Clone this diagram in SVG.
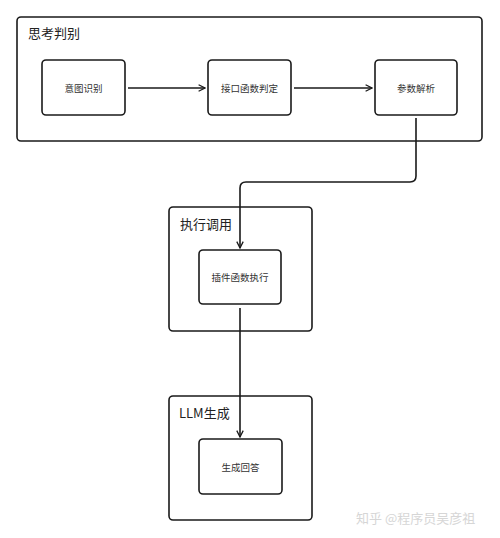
<svg xmlns="http://www.w3.org/2000/svg" width="500" height="538" viewBox="0 0 500 538">
<style>
.grp{fill:#fff;stroke:#1a1a1a;stroke-width:1.6}
.node{fill:#fff;stroke:#1a1a1a;stroke-width:1.6}
.gt{font-family:"Noto Sans CJK SC","Noto Sans",sans-serif;font-size:13px;fill:#222}
.nt{font-family:"Noto Sans CJK SC","Noto Sans",sans-serif;font-size:9.5px;fill:#333;text-anchor:middle;dominant-baseline:central}
.conn{fill:none;stroke:#1a1a1a;stroke-width:1.6}
.wm{font-family:"Noto Sans CJK SC",sans-serif;font-size:13px;fill:#d6d6d6}
</style>
<defs>
<marker id="arr" viewBox="0 0 10 10" refX="9" refY="5" markerWidth="8" markerHeight="8" markerUnits="userSpaceOnUse" orient="auto">
<path d="M1,1 L9,5 L1,9" fill="none" stroke="#1a1a1a" stroke-width="1.6"/>
</marker>
</defs>
<rect width="500" height="538" fill="#fff"/>
<g id="group-think">
<rect class="grp" x="17" y="17" width="465" height="124" rx="4"/>
<text class="gt" x="28" y="38">思考判别</text>
</g>
<g id="node-intent">
<rect class="node" x="42" y="60" width="83" height="55" rx="4"/>
<text class="nt" x="83.5" y="88">意图识别</text>
</g>
<g id="node-iface">
<rect class="node" x="208" y="60" width="83" height="55" rx="4"/>
<text class="nt" x="249.5" y="88">接口函数判定</text>
</g>
<g id="node-param">
<rect class="node" x="375" y="60" width="82" height="55" rx="4"/>
<text class="nt" x="416" y="88">参数解析</text>
</g>
<g id="group-exec">
<rect class="grp" x="169" y="207" width="143" height="124" rx="4"/>
<text class="gt" x="180" y="229">执行调用</text>
</g>
<g id="node-plugin">
<rect class="node" x="199" y="250" width="82" height="54" rx="4"/>
<text class="nt" x="240" y="277">插件函数执行</text>
</g>
<g id="group-llm">
<rect class="grp" x="169" y="396" width="143" height="124" rx="4"/>
<text class="gt" x="179" y="418">LLM生成</text>
</g>
<g id="node-answer">
<rect class="node" x="199" y="439" width="83" height="55" rx="4"/>
<text class="nt" x="240.5" y="466.5">生成回答</text>
</g>
<g id="connectors">
<path class="conn" d="M128,88 L205,88" marker-end="url(#arr)"/>
<path class="conn" d="M294,88 L372,88" marker-end="url(#arr)"/>
<path class="conn" d="M416,118 L416,176 Q416,182 410,182 L246,182 Q240,182 240,188 L240,248" marker-end="url(#arr)"/>
<path class="conn" d="M240,308 L240,437" marker-end="url(#arr)"/>
</g>
<text class="wm" x="356" y="523">知乎 @程序员吴彦祖</text>
</svg>
